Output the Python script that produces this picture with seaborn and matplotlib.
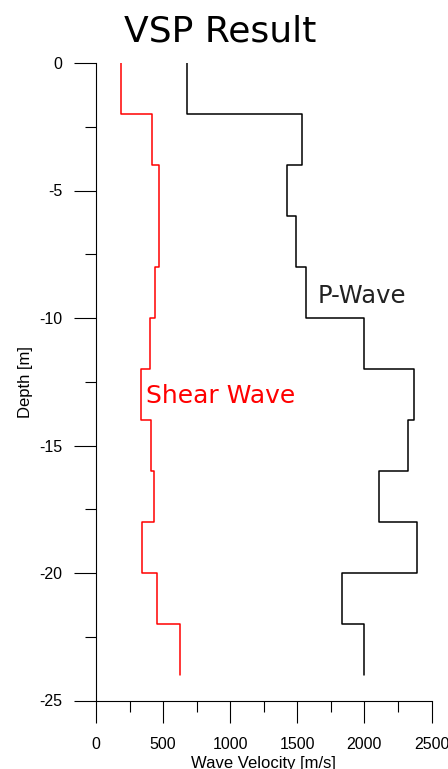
import numpy as np
import pandas as pd
import matplotlib
matplotlib.use("Agg")
import matplotlib.pyplot as plt
import seaborn as sns
from matplotlib.ticker import MultipleLocator

# ---- data ----
layer_tops = [0, 2, 4, 6, 8, 10, 12, 14, 16, 18, 20, 22]
layer_bottoms = [2, 4, 6, 8, 10, 12, 14, 16, 18, 20, 22, 24]
p_wave = [680, 1535, 1420, 1487, 1562, 2000, 2368, 2326, 2112, 2393, 1831, 2000]
s_wave = [187, 420, 473, 467, 443, 403, 338, 410, 433, 346, 453, 627]
x_ticks = [0, 500, 1000, 1500, 2000, 2500]
y_ticks = [0, -5, -10, -15, -20, -25]


def step_frame(vel, name):
    xs, ys = [], []
    for v, t, b in zip(vel, layer_tops, layer_bottoms):
        xs += [v, v]
        ys += [-t, -b]
    return pd.DataFrame({"velocity": xs, "depth": ys, "wave": name})


sns.set_theme(style="white")
plt.rcParams["font.family"] = ["Liberation Sans", "DejaVu Sans"]
plt.rcParams["axes.unicode_minus"] = False

fig = plt.figure(figsize=(4.48, 7.69), dpi=100)
ax = fig.add_axes([96 / 448, 1 - 700.5 / 769, (431.5 - 96) / 448, (700.5 - 63) / 769])

sns.lineplot(data=step_frame(p_wave, "P"), x="velocity", y="depth", sort=False,
             estimator=None, color="black", lw=1.1, ax=ax)
sns.lineplot(data=step_frame(s_wave, "S"), x="velocity", y="depth", sort=False,
             estimator=None, color="#ff0000", lw=1.1, ax=ax)

ax.set_xlim(0, 2500)
ax.set_ylim(-25, 0)
ax.set_xticks(x_ticks)
ax.set_yticks(y_ticks)
ax.xaxis.set_minor_locator(MultipleLocator(250))
ax.yaxis.set_minor_locator(MultipleLocator(2.5))
for s in ["top", "right"]:
    ax.spines[s].set_visible(False)
for s in ["left", "bottom"]:
    ax.spines[s].set_color("black")
    ax.spines[s].set_linewidth(0.8)
ax.tick_params(which="major", direction="out", length=15.5, width=0.8, color="black",
               labelsize=11.5, labelcolor="black")
ax.tick_params(which="minor", direction="out", length=8, width=0.8, color="black")
ax.tick_params(axis="x", which="major", pad=10.5)
ax.tick_params(axis="y", which="major", pad=8.5)
ax.tick_params(which="both", bottom=True, left=True)

ax.set_xlabel("Wave Velocity [m/s]", fontsize=12, color="black", labelpad=3)
ax.set_ylabel("Depth [m]", fontsize=12, color="black", labelpad=5)

ax.text(1650, -9.15, "P-Wave", fontsize=17.5, color="#222222", family="DejaVu Sans",
        ha="left", va="center")
ax.text(370, -13.05, "Shear Wave", fontsize=18, color="#ff0000", family="DejaVu Sans",
        ha="left", va="center")

fig.text(220 / 448, 1 - 41 / 769, "VSP Result", fontsize=26, color="black",
         family="DejaVu Sans", ha="center", va="baseline")

fig.savefig("out.png", dpi=100)
